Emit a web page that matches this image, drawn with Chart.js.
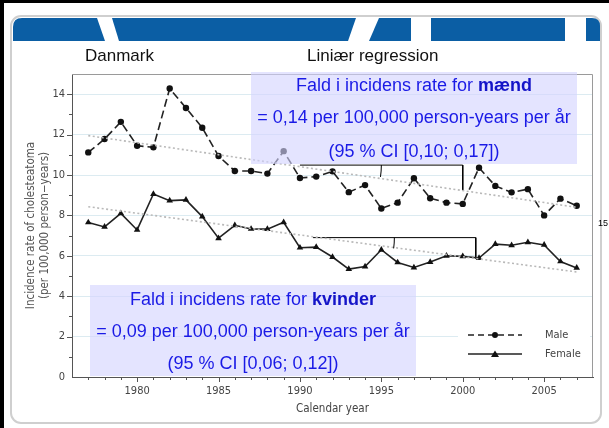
<!DOCTYPE html>
<html><head><meta charset="utf-8">
<script src="https://cdn.jsdelivr.net/npm/chart.js@4.4.1/dist/chart.umd.min.js"></script>
<style>html,body{margin:0;padding:0;background:#fff;overflow:hidden}canvas{display:block}</style>
</head><body>
<canvas id="c" width="609" height="428"></canvas>
<script>
// ---- data ----
const years = [1977,1978,1979,1980,1981,1982,1983,1984,1985,1986,1987,1988,1989,1990,1991,1992,1993,1994,1995,1996,1997,1998,1999,2000,2001,2002,2003,2004,2005,2006,2007];
const maleRate = [11.12,11.78,12.63,11.45,11.37,14.28,13.32,12.34,10.94,10.2,10.2,10.07,11.18,9.85,9.92,10.18,9.15,9.5,8.34,8.63,9.84,8.85,8.63,8.57,10.36,9.46,9.14,9.3,8.0,8.83,8.48];
const femaleRate = [7.65,7.43,8.1,7.28,9.06,8.73,8.77,7.94,6.87,7.51,7.33,7.32,7.66,6.4,6.43,5.94,5.34,5.47,6.3,5.67,5.42,5.69,6.0,5.97,5.89,6.58,6.52,6.67,6.54,5.72,5.4];
const fitYears = [1977, 2007];
const maleFit = [11.95, 8.4];
const femaleFit = [8.43, 5.2];
const maleBracketX = [1990, 2000, 2000];
const maleBracketY = [10.49, 10.49, 9.25];
const femaleBracketX = [1990.8, 2000.8, 2000.8];
const femaleBracketY = [6.9, 6.9, 5.87];
const xTicks = [1980, 1985, 1990, 1995, 2000, 2005];
const yTicks = [0, 2, 4, 6, 8, 10, 12, 14];
const seriesNames = ['Male', 'Female'];
const maleNote = [[['Fald i incidens rate for ', false], ['mænd', true]], [['= 0,14 per 100,000 person-years per år', false]], [['(95 % CI [0,10; 0,17])', false]]];
const femaleNote = [[['Fald i incidens rate for ', false], ['kvinder', true]], [['= 0,09 per 100,000 person-years per år', false]], [['(95 % CI [0,06; 0,12])', false]]];

const AX = "'Liberation Sans Narrow','DejaVu Sans Condensed','Open Sans',sans-serif";
const AR = "'Liberation Sans',Arial,sans-serif";
const pts = (xs, ys) => xs.map((x, i) => ({x: x, y: ys[i]}));

function mixed(ctx, parts, cx, y, size) {
  let w = 0;
  parts.forEach(p => { ctx.font = (p[1] ? 'bold ' : '') + size + 'px ' + AR; w += ctx.measureText(p[0]).width; });
  let x = cx - w / 2;
  ctx.textAlign = 'left'; ctx.textBaseline = 'middle';
  parts.forEach(p => { ctx.font = (p[1] ? 'bold ' : '') + size + 'px ' + AR; ctx.fillStyle = p[1] ? '#1414c8' : '#1a1ae6'; ctx.fillText(p[0], x, y); x += ctx.measureText(p[0]).width; });
}

const deco = {
  id: 'deco',
  beforeDraw(chart) {
    const c = chart.ctx;
    c.save();
    c.fillStyle = '#fff'; c.fillRect(0, 0, 609, 428);
    c.fillStyle = '#000'; c.fillRect(0, 0, 4, 428); c.fillRect(0, 0, 609, 3);
    c.strokeStyle = '#cfcfcf'; c.lineWidth = 2;
    c.beginPath(); c.roundRect(11, 16, 590, 407, 10); c.stroke();
    c.fillStyle = '#0b5ea4';
    c.beginPath(); c.moveTo(13, 41); c.lineTo(13, 27); c.quadraticCurveTo(13, 18, 22, 18); c.lineTo(97, 18); c.lineTo(105, 41); c.closePath(); c.fill();
    c.beginPath(); c.moveTo(112, 18); c.lineTo(356, 18); c.lineTo(348, 41); c.lineTo(119, 41); c.closePath(); c.fill();
    c.beginPath(); c.moveTo(379, 18); c.lineTo(411, 18); c.lineTo(411, 41); c.lineTo(369, 41); c.closePath(); c.fill();
    c.fillRect(431, 18, 134, 23);
    c.beginPath(); c.moveTo(586, 18); c.lineTo(592, 18); c.quadraticCurveTo(600, 18, 600, 26); c.lineTo(600, 41); c.lineTo(586, 41); c.closePath(); c.fill();
    c.fillStyle = '#111'; c.font = '17px ' + AR; c.textBaseline = 'middle'; c.textAlign = 'left';
    c.fillText('Danmark', 85, 56);
    c.fillText('Liniær regression', 307, 56);
    c.restore();
  },
  afterDraw(chart) {
    const c = chart.ctx, xs = chart.scales.x, ys = chart.scales.y, a = chart.chartArea;
    c.save();
    c.strokeStyle = '#9a9a9a'; c.lineWidth = 1;
    c.beginPath(); c.moveTo(a.left, a.top + 0.5); c.lineTo(a.right - 0.5, a.top + 0.5); c.lineTo(a.right - 0.5, a.bottom); c.stroke();
    c.strokeStyle = '#555';
    for (let yr = 1977; yr <= 2007; yr++) {
      const px = Math.round(xs.getPixelForValue(yr)) + 0.5, len = yr % 5 === 0 ? 5 : 3;
      c.beginPath(); c.moveTo(px, a.bottom); c.lineTo(px, a.bottom + len); c.stroke();
    }
    for (let v = 1; v <= 14; v++) {
      const py = Math.round(ys.getPixelForValue(v)) + 0.5, len = v % 2 === 0 ? 5 : 3;
      c.beginPath(); c.moveTo(a.left, py); c.lineTo(a.left - len, py); c.stroke();
    }
    c.strokeStyle = '#000'; c.lineWidth = 1;
    [[maleBracketX, maleBracketY, maleFit], [femaleBracketX, femaleBracketY, femaleFit]].forEach(b => {
      const cx = xs.getPixelForValue(b[0][0]), cy = ys.getPixelForValue(b[1][0]);
      const r = xs.getPixelForValue(b[0][0] + 5) - cx;
      const slope = (ys.getPixelForValue(b[2][1]) - ys.getPixelForValue(b[2][0])) / (xs.getPixelForValue(fitYears[1]) - xs.getPixelForValue(fitYears[0]));
      c.beginPath(); c.arc(cx, cy, r, 0, Math.atan(slope)); c.stroke();
    });
    c.fillStyle = 'rgba(212,212,255,0.62)';
    c.fillRect(251, 72, 326, 92);
    c.fillRect(90, 285, 326, 91);
    [86, 118, 152].forEach((y, i) => mixed(c, maleNote[i], 414, y, 18));
    [300, 332, 364].forEach((y, i) => mixed(c, femaleNote[i], 253, y, 18));
    c.fillStyle = '#fff'; c.fillRect(458, 323, 132, 44);
    c.strokeStyle = '#222'; c.lineWidth = 1.5;
    c.setLineDash([6, 4]); c.beginPath(); c.moveTo(468, 335); c.lineTo(522, 335); c.stroke();
    c.setLineDash([]); c.beginPath(); c.moveTo(468, 354); c.lineTo(522, 354); c.stroke();
    c.fillStyle = '#111';
    c.beginPath(); c.arc(495, 335, 3, 0, Math.PI * 2); c.fill();
    c.beginPath(); c.moveTo(495, 350.5); c.lineTo(499, 357); c.lineTo(491, 357); c.closePath(); c.fill();
    c.fillStyle = '#444'; c.font = '11px ' + AX; c.textAlign = 'left'; c.textBaseline = 'middle';
    c.fillText(seriesNames[0], 545, 335);
    c.fillText(seriesNames[1], 545, 354);
    c.fillStyle = '#000'; c.font = '9px ' + AR; c.textAlign = 'center';
    c.fillText('15', 603, 224);
    c.restore();
  }
};

new Chart(document.getElementById('c'), {
  type: 'line',
  data: {
    datasets: [
      {label: 'maleFit', data: pts(fitYears, maleFit), borderColor: '#b9b9b9', borderWidth: 1.6, borderDash: [2, 2.5], pointRadius: 0},
      {label: 'femaleFit', data: pts(fitYears, femaleFit), borderColor: '#b9b9b9', borderWidth: 1.6, borderDash: [2, 2.5], pointRadius: 0},
      {label: seriesNames[0], data: pts(years, maleRate), borderColor: '#222', borderWidth: 1.6, borderDash: [8, 4], pointStyle: 'circle', pointRadius: 3.2, pointBackgroundColor: '#111', pointBorderColor: '#111', pointBorderWidth: 0},
      {label: seriesNames[1], data: pts(years, femaleRate), borderColor: '#222', borderWidth: 1.6, pointStyle: 'triangle', pointRadius: 3.8, pointBackgroundColor: '#111', pointBorderColor: '#111', pointBorderWidth: 0},
      {label: 'maleBracket', data: pts(maleBracketX, maleBracketY), borderColor: '#000', borderWidth: 1, pointRadius: 0},
      {label: 'femaleBracket', data: pts(femaleBracketX, femaleBracketY), borderColor: '#000', borderWidth: 1, pointRadius: 0}
    ]
  },
  options: {
    responsive: false, animation: false, devicePixelRatio: 1,
    layout: {padding: {left: 0, top: 74, right: 16, bottom: 0}},
    plugins: {legend: {display: false}, tooltip: {enabled: false}},
    elements: {line: {tension: 0}},
    scales: {
      x: {
        type: 'linear', min: 1976, max: 2008,
        afterFit(s) { s.height = 51; },
        afterBuildTicks(s) { s.ticks = xTicks.map(v => ({value: v})); },
        grid: {display: false, drawTicks: false},
        border: {display: true, color: '#555', width: 1},
        ticks: {padding: 8, autoSkip: false, maxRotation: 0, color: '#444', font: {family: AX, size: 11}, callback: v => String(v)},
        title: {display: true, text: 'Calendar year', color: '#444', font: {family: AX, size: 11.5, lineHeight: '14px'}, padding: {top: 0, bottom: 12}}
      },
      y: {
        type: 'linear', min: 0, max: 15,
        afterFit(s) { s.width = 72; },
        afterBuildTicks(s) { s.ticks = yTicks.map(v => ({value: v})); },
        grid: {drawTicks: false, lineWidth: 1, color: ctx => (ctx.tick && ctx.tick.value === 0) ? 'rgba(0,0,0,0)' : '#dcebf1'},
        border: {display: true, color: '#555', width: 1},
        ticks: {padding: 7, color: '#444', font: {family: AX, size: 11}, callback: v => String(v)},
        title: {display: true, text: ['Incidence rate of cholesteatoma', '(per 100,000 person\u2212years)'], color: '#555', font: {family: AX, size: 11.5, lineHeight: '14px'}, padding: {top: 24, bottom: 0}}
      }
    }
  },
  plugins: [deco]
});
</script>
</body></html>
